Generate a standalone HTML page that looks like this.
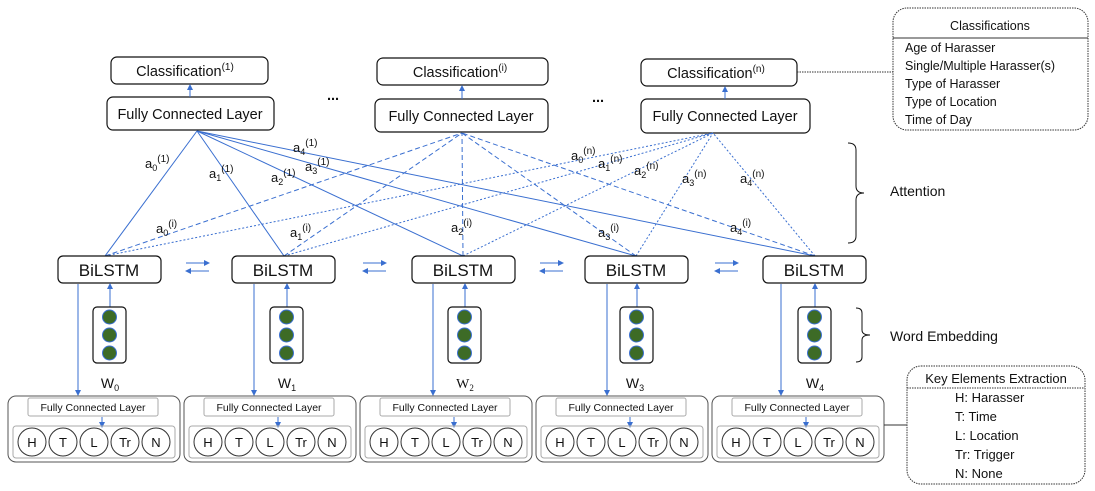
<!DOCTYPE html>
<html><head><meta charset="utf-8"><style>
body{margin:0;background:#fff}
svg{display:block;font-family:"Liberation Sans",sans-serif}
text{fill:#111}
</style></head><body>
<svg width="1095" height="491" viewBox="0 0 1095 491" xmlns="http://www.w3.org/2000/svg">
<defs>
<marker id="ar" markerWidth="6" markerHeight="6" refX="5" refY="3" orient="auto" markerUnits="userSpaceOnUse"><path d="M0,0 L6,3 L0,6z" fill="#3a6fd0"/></marker>
</defs>
<g fill="#fff" stroke="#111" stroke-width="1.2">
<rect x="111" y="57" width="157" height="27" rx="6"/>
<rect x="107" y="97" width="167" height="33" rx="6"/>
<rect x="377" y="58" width="171" height="27" rx="6"/>
<rect x="375" y="99" width="173" height="33" rx="6"/>
<rect x="641" y="59" width="156" height="27" rx="6"/>
<rect x="641" y="99" width="169" height="34" rx="6"/>
</g>
<g font-size="14.5" text-anchor="middle">
<text x="185" y="76">Classification<tspan font-size="10" dy="-6">(1)</tspan></text>
<text x="190" y="119">Fully Connected Layer</text>
<text x="460" y="77">Classification<tspan font-size="10" dy="-6">(i)</tspan></text>
<text x="461" y="121">Fully Connected Layer</text>
<text x="716" y="78">Classification<tspan font-size="10" dy="-6">(n)</tspan></text>
<text x="725" y="121">Fully Connected Layer</text>
<text x="333" y="100" font-weight="bold">...</text>
<text x="598" y="102" font-weight="bold">...</text>
</g>
<g stroke="#3a6fd0" stroke-width="1" marker-end="url(#ar)">
<line x1="190" y1="97" x2="190" y2="85"/>
<line x1="462" y1="99" x2="462" y2="86"/>
<line x1="725" y1="99" x2="725" y2="87"/>
</g>
<rect x="893" y="8" width="195" height="122" rx="14" fill="none" stroke="#333" stroke-dasharray="1.5,1"/>
<line x1="893" y1="38" x2="1088" y2="38" stroke="#333"/>
<line x1="797" y1="72" x2="893" y2="72" stroke="#333" stroke-dasharray="1.5,1"/>
<g font-size="12.5">
<text x="990" y="30" text-anchor="middle">Classifications</text>
<text x="905" y="52">Age of Harasser</text>
<text x="905" y="70">Single/Multiple Harasser(s)</text>
<text x="905" y="88">Type of Harasser</text>
<text x="905" y="106">Type of Location</text>
<text x="905" y="124">Time of Day</text>
</g>
<g stroke="#3a6fd0" stroke-width="1" fill="none">
<g>
<line x1="105" y1="256" x2="197" y2="131"/>
<line x1="284" y1="256" x2="197" y2="131"/>
<line x1="463" y1="256" x2="197" y2="131"/>
<line x1="636" y1="256" x2="197" y2="131"/>
<line x1="815" y1="256" x2="197" y2="131"/>
</g>
<g stroke-dasharray="5,3">
<line x1="105" y1="256" x2="462" y2="133"/>
<line x1="284" y1="256" x2="462" y2="133"/>
<line x1="463" y1="256" x2="462" y2="133"/>
<line x1="636" y1="256" x2="462" y2="133"/>
<line x1="815" y1="256" x2="462" y2="133"/>
</g>
<g stroke-dasharray="2,2">
<line x1="105" y1="256" x2="713" y2="133"/>
<line x1="284" y1="256" x2="713" y2="133"/>
<line x1="463" y1="256" x2="713" y2="133"/>
<line x1="636" y1="256" x2="713" y2="133"/>
<line x1="815" y1="256" x2="713" y2="133"/>
</g>
</g>
<g font-size="13">
<text x="145" y="168">a<tspan font-size="9" dy="3">0</tspan><tspan font-size="10" dy="-9">(1)</tspan></text>
<text x="209" y="178">a<tspan font-size="9" dy="3">1</tspan><tspan font-size="10" dy="-9">(1)</tspan></text>
<text x="271" y="182">a<tspan font-size="9" dy="3">2</tspan><tspan font-size="10" dy="-9">(1)</tspan></text>
<text x="305" y="171">a<tspan font-size="9" dy="3">3</tspan><tspan font-size="10" dy="-9">(1)</tspan></text>
<text x="293" y="152">a<tspan font-size="9" dy="3">4</tspan><tspan font-size="10" dy="-9">(1)</tspan></text>
<text x="156" y="233">a<tspan font-size="9" dy="3">0</tspan><tspan font-size="10" dy="-9">(i)</tspan></text>
<text x="290" y="237">a<tspan font-size="9" dy="3">1</tspan><tspan font-size="10" dy="-9">(i)</tspan></text>
<text x="451" y="232">a<tspan font-size="9" dy="3">2</tspan><tspan font-size="10" dy="-9">(i)</tspan></text>
<text x="598" y="237">a<tspan font-size="9" dy="3">3</tspan><tspan font-size="10" dy="-9">(i)</tspan></text>
<text x="730" y="232">a<tspan font-size="9" dy="3">4</tspan><tspan font-size="10" dy="-9">(i)</tspan></text>
<text x="571" y="160">a<tspan font-size="9" dy="3">0</tspan><tspan font-size="10" dy="-9">(n)</tspan></text>
<text x="598" y="168">a<tspan font-size="9" dy="3">1</tspan><tspan font-size="10" dy="-9">(n)</tspan></text>
<text x="634" y="175">a<tspan font-size="9" dy="3">2</tspan><tspan font-size="10" dy="-9">(n)</tspan></text>
<text x="682" y="183">a<tspan font-size="9" dy="3">3</tspan><tspan font-size="10" dy="-9">(n)</tspan></text>
<text x="740" y="183">a<tspan font-size="9" dy="3">4</tspan><tspan font-size="10" dy="-9">(n)</tspan></text>
</g>
<path d="M848,143 Q856,143 856,150 L856,186 Q856,193 864,193 Q856,193 856,200 L856,236 Q856,243 848,243" fill="none" stroke="#111"/>
<text x="890" y="196" font-size="14">Attention</text>
<path d="M856,308 Q862,308 862,313 L862,330 Q862,335 870,335 Q862,335 862,340 L862,357 Q862,362 856,362" fill="none" stroke="#111"/>
<text x="890" y="341" font-size="14">Word Embedding</text>
<g fill="#fff" stroke="#111" stroke-width="1.2">
<rect x="58" y="256" width="103" height="27" rx="5"/>
<rect x="232" y="256" width="103" height="27" rx="5"/>
<rect x="412" y="256" width="103" height="27" rx="5"/>
<rect x="585" y="256" width="103" height="27" rx="5"/>
<rect x="763" y="256" width="103" height="27" rx="5"/>
</g>
<g font-size="17" text-anchor="middle">
<text x="109" y="276">BiLSTM</text>
<text x="283" y="276">BiLSTM</text>
<text x="463" y="276">BiLSTM</text>
<text x="636" y="276">BiLSTM</text>
<text x="814" y="276">BiLSTM</text>
</g>
<g stroke="#3a6fd0" stroke-width="1" marker-end="url(#ar)">
<line x1="186" y1="263" x2="209" y2="263"/><line x1="209" y1="271" x2="186" y2="271"/>
<line x1="363" y1="263" x2="386" y2="263"/><line x1="386" y1="271" x2="363" y2="271"/>
<line x1="540" y1="263" x2="563" y2="263"/><line x1="563" y1="271" x2="540" y2="271"/>
<line x1="715" y1="263" x2="738" y2="263"/><line x1="738" y1="271" x2="715" y2="271"/>
<line x1="110" y1="307" x2="110" y2="284"/>
<line x1="287" y1="307" x2="287" y2="284"/>
<line x1="465" y1="307" x2="465" y2="284"/>
<line x1="637" y1="307" x2="637" y2="284"/>
<line x1="815" y1="307" x2="815" y2="284"/>
<line x1="78" y1="284" x2="78" y2="395"/>
<line x1="254" y1="284" x2="254" y2="395"/>
<line x1="433" y1="284" x2="433" y2="395"/>
<line x1="607" y1="284" x2="607" y2="395"/>
<line x1="781" y1="284" x2="781" y2="395"/>
</g>
<g stroke="#111" fill="#fff" stroke-width="1.2">
<rect x="93" y="307" width="33" height="56" rx="4"/>
<rect x="270" y="307" width="33" height="56" rx="4"/>
<rect x="448" y="307" width="33" height="56" rx="4"/>
<rect x="620" y="307" width="33" height="56" rx="4"/>
<rect x="798" y="307" width="33" height="56" rx="4"/>
</g>
<g fill="#3d6b26" stroke="#3a6fd0" stroke-width="1">
<circle cx="109.5" cy="317" r="7"/><circle cx="109.5" cy="335" r="7"/><circle cx="109.5" cy="353" r="7"/>
<circle cx="286.5" cy="317" r="7"/><circle cx="286.5" cy="335" r="7"/><circle cx="286.5" cy="353" r="7"/>
<circle cx="464.5" cy="317" r="7"/><circle cx="464.5" cy="335" r="7"/><circle cx="464.5" cy="353" r="7"/>
<circle cx="636.5" cy="317" r="7"/><circle cx="636.5" cy="335" r="7"/><circle cx="636.5" cy="353" r="7"/>
<circle cx="814.5" cy="317" r="7"/><circle cx="814.5" cy="335" r="7"/><circle cx="814.5" cy="353" r="7"/>
</g>
<g font-size="14" text-anchor="middle">
<text x="110" y="388">W<tspan font-size="9" dy="3">0</tspan></text>
<text x="287" y="388">W<tspan font-size="9" dy="3">1</tspan></text>
<text x="465" y="388" font-family="Liberation Serif">W<tspan font-size="9" dy="3">2</tspan></text>
<text x="635" y="388">W<tspan font-size="9" dy="3">3</tspan></text>
<text x="815" y="388">W<tspan font-size="9" dy="3">4</tspan></text>
</g>
<g font-size="10.5" text-anchor="middle">
<g transform="translate(8,0)">
<rect x="0" y="396" width="172" height="66" rx="8" fill="#fff" stroke="#555"/>
<rect x="20" y="398" width="130" height="18" rx="2" fill="#fff" stroke="#aaa"/>
<text x="85" y="411">Fully Connected Layer</text>
<line x1="94" y1="417" x2="94" y2="427" stroke="#3a6fd0" marker-end="url(#ar)"/>
<rect x="5" y="426" width="162" height="32" rx="3" fill="none" stroke="#aaa"/>
<g fill="#fff" stroke="#333"><circle cx="24" cy="442" r="14"/><circle cx="55" cy="442" r="14"/><circle cx="86" cy="442" r="14"/><circle cx="117" cy="442" r="14"/><circle cx="148" cy="442" r="14"/></g>
<g font-size="13"><text x="24" y="447">H</text><text x="55" y="447">T</text><text x="86" y="447">L</text><text x="117" y="447">Tr</text><text x="148" y="447">N</text></g>
</g>
<g transform="translate(184,0)">
<rect x="0" y="396" width="172" height="66" rx="8" fill="#fff" stroke="#555"/>
<rect x="20" y="398" width="130" height="18" rx="2" fill="#fff" stroke="#aaa"/>
<text x="85" y="411">Fully Connected Layer</text>
<line x1="94" y1="417" x2="94" y2="427" stroke="#3a6fd0" marker-end="url(#ar)"/>
<rect x="5" y="426" width="162" height="32" rx="3" fill="none" stroke="#aaa"/>
<g fill="#fff" stroke="#333"><circle cx="24" cy="442" r="14"/><circle cx="55" cy="442" r="14"/><circle cx="86" cy="442" r="14"/><circle cx="117" cy="442" r="14"/><circle cx="148" cy="442" r="14"/></g>
<g font-size="13"><text x="24" y="447">H</text><text x="55" y="447">T</text><text x="86" y="447">L</text><text x="117" y="447">Tr</text><text x="148" y="447">N</text></g>
</g>
<g transform="translate(360,0)">
<rect x="0" y="396" width="172" height="66" rx="8" fill="#fff" stroke="#555"/>
<rect x="20" y="398" width="130" height="18" rx="2" fill="#fff" stroke="#aaa"/>
<text x="85" y="411">Fully Connected Layer</text>
<line x1="94" y1="417" x2="94" y2="427" stroke="#3a6fd0" marker-end="url(#ar)"/>
<rect x="5" y="426" width="162" height="32" rx="3" fill="none" stroke="#aaa"/>
<g fill="#fff" stroke="#333"><circle cx="24" cy="442" r="14"/><circle cx="55" cy="442" r="14"/><circle cx="86" cy="442" r="14"/><circle cx="117" cy="442" r="14"/><circle cx="148" cy="442" r="14"/></g>
<g font-size="13"><text x="24" y="447">H</text><text x="55" y="447">T</text><text x="86" y="447">L</text><text x="117" y="447">Tr</text><text x="148" y="447">N</text></g>
</g>
<g transform="translate(536,0)">
<rect x="0" y="396" width="172" height="66" rx="8" fill="#fff" stroke="#555"/>
<rect x="20" y="398" width="130" height="18" rx="2" fill="#fff" stroke="#aaa"/>
<text x="85" y="411">Fully Connected Layer</text>
<line x1="94" y1="417" x2="94" y2="427" stroke="#3a6fd0" marker-end="url(#ar)"/>
<rect x="5" y="426" width="162" height="32" rx="3" fill="none" stroke="#aaa"/>
<g fill="#fff" stroke="#333"><circle cx="24" cy="442" r="14"/><circle cx="55" cy="442" r="14"/><circle cx="86" cy="442" r="14"/><circle cx="117" cy="442" r="14"/><circle cx="148" cy="442" r="14"/></g>
<g font-size="13"><text x="24" y="447">H</text><text x="55" y="447">T</text><text x="86" y="447">L</text><text x="117" y="447">Tr</text><text x="148" y="447">N</text></g>
</g>
<g transform="translate(712,0)">
<rect x="0" y="396" width="172" height="66" rx="8" fill="#fff" stroke="#555"/>
<rect x="20" y="398" width="130" height="18" rx="2" fill="#fff" stroke="#aaa"/>
<text x="85" y="411">Fully Connected Layer</text>
<line x1="94" y1="417" x2="94" y2="427" stroke="#3a6fd0" marker-end="url(#ar)"/>
<rect x="5" y="426" width="162" height="32" rx="3" fill="none" stroke="#aaa"/>
<g fill="#fff" stroke="#333"><circle cx="24" cy="442" r="14"/><circle cx="55" cy="442" r="14"/><circle cx="86" cy="442" r="14"/><circle cx="117" cy="442" r="14"/><circle cx="148" cy="442" r="14"/></g>
<g font-size="13"><text x="24" y="447">H</text><text x="55" y="447">T</text><text x="86" y="447">L</text><text x="117" y="447">Tr</text><text x="148" y="447">N</text></g>
</g>
</g>
<line x1="884" y1="425" x2="907" y2="425" stroke="#333"/>
<rect x="907" y="366" width="178" height="118" rx="14" fill="none" stroke="#333" stroke-dasharray="1.5,1"/>
<line x1="907" y1="388" x2="1085" y2="388" stroke="#333" stroke-dasharray="1.5,1"/>
<g font-size="13">
<text x="996" y="383" text-anchor="middle">Key Elements Extraction</text>
<text x="955" y="402">H: Harasser</text>
<text x="955" y="421">T: Time</text>
<text x="955" y="440">L: Location</text>
<text x="955" y="459">Tr: Trigger</text>
<text x="955" y="478">N: None</text>
</g>
</svg>
</body></html>
